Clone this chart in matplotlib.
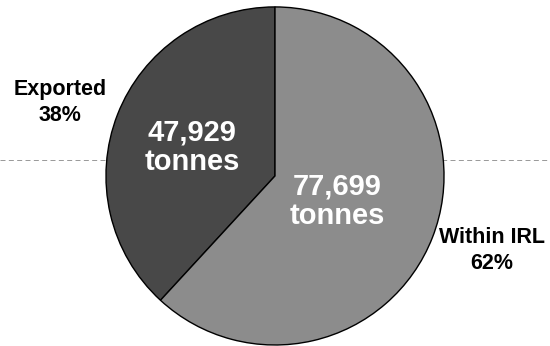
import matplotlib.pyplot as plt

# data
categories = ['Exported', 'Within IRL']
tonnes = [47929, 77699]
percents = [38, 62]
colors = ['#484848', '#8c8c8c']

plt.rcParams['font.family'] = ['Liberation Sans', 'DejaVu Sans']

fig = plt.figure(figsize=(5.5, 3.46), dpi=100)
ax = fig.add_axes([0, 0, 1, 1])

wedges, _ = ax.pie(tonnes, colors=colors, startangle=90, counterclock=True,
                   radius=1.0, wedgeprops=dict(edgecolor='black', linewidth=1.0))

# faint scan line behind the chart
ax.axhline(0.095, color='#888888', linestyle=(0, (6, 4)), linewidth=0.6, zorder=0)

ax.set_xlim(-1.627, 1.627)
ax.set_ylim(-1.006, 1.041)
ax.set_aspect('auto')
ax.axis('off')

# value labels inside slices
inner_pos = [(-0.49, 0.17), (0.367, -0.148)]
for (x, y), t in zip(inner_pos, tonnes):
    ax.text(x, y, f'{t:,}\ntonnes', color='white', fontsize=21, fontweight='bold',
            ha='center', va='center', linespacing=1.05)

# category labels outside
outer_pos = [(-1.272, 0.435), (1.285, -0.441)]
for (x, y), c, p in zip(outer_pos, categories, percents):
    ax.text(x, y, f'{c}\n{p}%', color='black', fontsize=15.5, fontweight='bold',
            ha='center', va='center', linespacing=1.3)

plt.savefig('out.png', dpi=100)
